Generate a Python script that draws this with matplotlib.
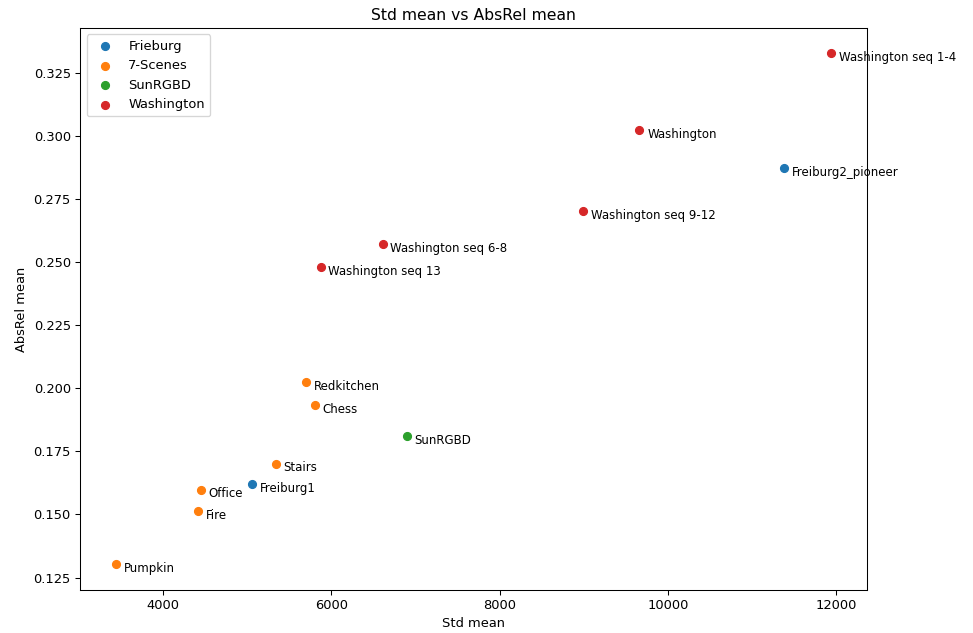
import matplotlib.pyplot as plt

# per-dataset means (Std mean, AbsRel mean)
freiburg_names = ['Freiburg1', 'Freiburg2_pioneer']
freiburg_std = [5056, 11383]
freiburg_absrel = [0.1619, 0.2873]

scenes_names = ['Redkitchen', 'Chess', 'Stairs', 'Office', 'Fire', 'Pumpkin']
scenes_std = [5697, 5804, 5341, 4451, 4415, 3442]
scenes_absrel = [0.2024, 0.1933, 0.1702, 0.1599, 0.1512, 0.1302]

sun_names = ['SunRGBD']
sun_std = [6896]
sun_absrel = [0.1810]

wash_names = ['Washington seq 1-4', 'Washington', 'Washington seq 9-12',
              'Washington seq 6-8', 'Washington seq 13']
wash_std = [11941, 9662, 8997, 6611, 5875]
wash_absrel = [0.3329, 0.3024, 0.2702, 0.2571, 0.2480]

groups = [
    ('Frieburg', freiburg_names, freiburg_std, freiburg_absrel),
    ('7-Scenes', scenes_names, scenes_std, scenes_absrel),
    ('SunRGBD', sun_names, sun_std, sun_absrel),
    ('Washington', wash_names, wash_std, wash_absrel),
]

dpi = 94
fig = plt.figure(figsize=(973 / dpi, 633 / dpi), dpi=dpi)
ax = fig.add_axes([0.0822, 0.068, 0.809, 0.888])

for label, names, xs, ys in groups:
    ax.scatter(xs, ys, label=label)
    for n, x, y in zip(names, xs, ys):
        ax.annotate(n, (x, y), xytext=(6, -3), textcoords='offset points',
                    va='center', fontsize=9, annotation_clip=False)

ax.set_title('Std mean vs AbsRel mean')
ax.set_xlabel('Std mean')
ax.set_ylabel('AbsRel mean')
ax.legend(loc='upper left')

plt.savefig('out.png', dpi=dpi)
